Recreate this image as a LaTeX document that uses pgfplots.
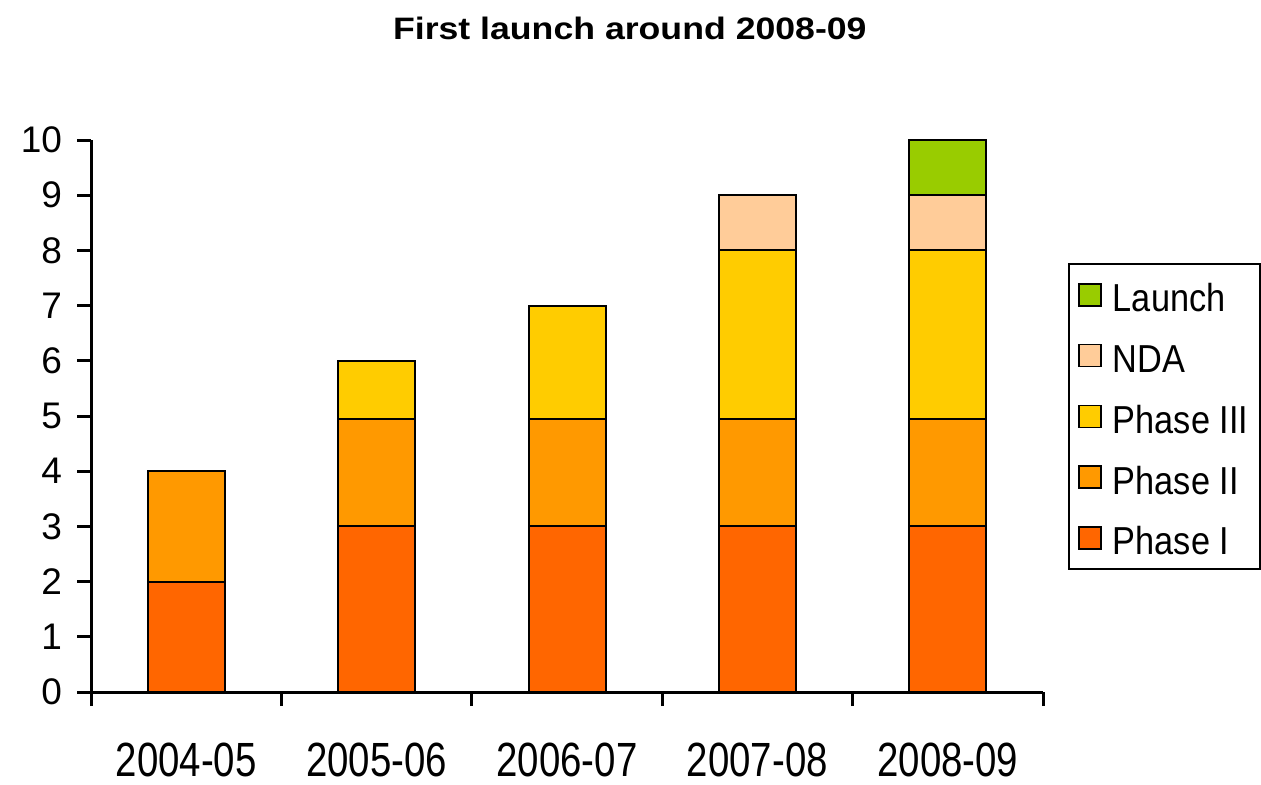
\documentclass[border=0pt]{standalone}
\usepackage{pgfplots}
\pgfplotsset{compat=1.18}
\usepackage{fontspec}
\setmainfont{Liberation Sans}
\newfontfamily\titlefont[FakeStretch=1.15]{Liberation Sans}
\newfontfamily\catfont[FakeStretch=0.8]{Liberation Sans}
\newfontfamily\legfont[FakeStretch=0.88]{Liberation Sans}
\definecolor{phaseI}{HTML}{FF6600}
\definecolor{phaseII}{HTML}{FF9900}
\definecolor{phaseIII}{HTML}{FFCC00}
\definecolor{nda}{HTML}{FFCC99}
\definecolor{launch}{HTML}{99CC00}
\begin{document}
\begin{tikzpicture}
\path[use as bounding box] (-45.5pt,-46pt) rectangle (585pt,346pt);
\begin{axis}[
  at={(0,0)}, anchor=south west,
  scale only axis, width=476pt, height=276pt,
  clip=false,
  xmin=-0.5, xmax=4.5, ymin=0, ymax=10,
  axis x line*=bottom, axis y line*=left,
  axis line style={line width=1.5pt, black},
  ybar stacked, bar width=38.5pt,
  xtick={-0.5,0.5,1.5,2.5,3.5,4.5}, xticklabels={},
  extra x ticks={0,1,2,3,4},
  extra x tick labels={2004-05,2005-06,2006-07,2007-08,2008-09},
  extra x tick style={tick style={draw=none}},
  ytick={0,1,...,10},
  tick align=outside, major tick length=7pt,
  tick style={line width=1.5pt, black},
  xticklabel style={font=\catfont\fontsize{24}{24}\selectfont, inner sep=0pt, yshift=-18.5pt},
  yticklabel style={font=\fontsize{18.5}{18.5}\selectfont, xshift=-4pt},
  /pgf/number format/assume math mode=true,
  legend image code/.code={\draw[#1, line width=0.8pt] (0pt,-5.5pt) rectangle (11pt,5.5pt);
    \path (15pt,0pt);},
  reverse legend,
  legend cell align=left,
  legend style={at={(axis description cs:1.0263,0.7772)}, anchor=north west,
    draw=black, line width=1pt, font=\legfont\fontsize{19.5}{19.5}\selectfont,
    inner xsep=4.5pt, inner ysep=5pt, row sep=9.35pt,
    nodes={inner sep=1.5pt, text height=17.5pt, text depth=0.5pt}},
]
\addplot[fill=phaseI, draw=black, line width=1pt] coordinates {(0,2) (1,3) (2,3) (3,3) (4,3)};
\addplot[fill=phaseII, draw=black, line width=1pt] coordinates {(0,2) (1,1.95) (2,1.95) (3,1.95) (4,1.95)};
\addplot[fill=phaseIII, draw=black, line width=1pt] coordinates {(0,0) (1,1.05) (2,2.05) (3,3.05) (4,3.05)};
\addplot[fill=nda, draw=black, line width=1pt] coordinates {(0,0) (1,0) (2,0) (3,1) (4,1)};
\addplot[fill=launch, draw=black, line width=1pt] coordinates {(0,0) (1,0) (2,0) (3,0) (4,1)};
\legend{Phase I, Phase II, Phase III, NDA, Launch}
% chart title, centred over the whole figure
\node[font=\titlefont\bfseries\fontsize{15.5}{15.5}\selectfont, anchor=center]
  at (rel axis cs:0.566,1.203) {First launch around 2008-09};
\end{axis}
\end{tikzpicture}
\end{document}
